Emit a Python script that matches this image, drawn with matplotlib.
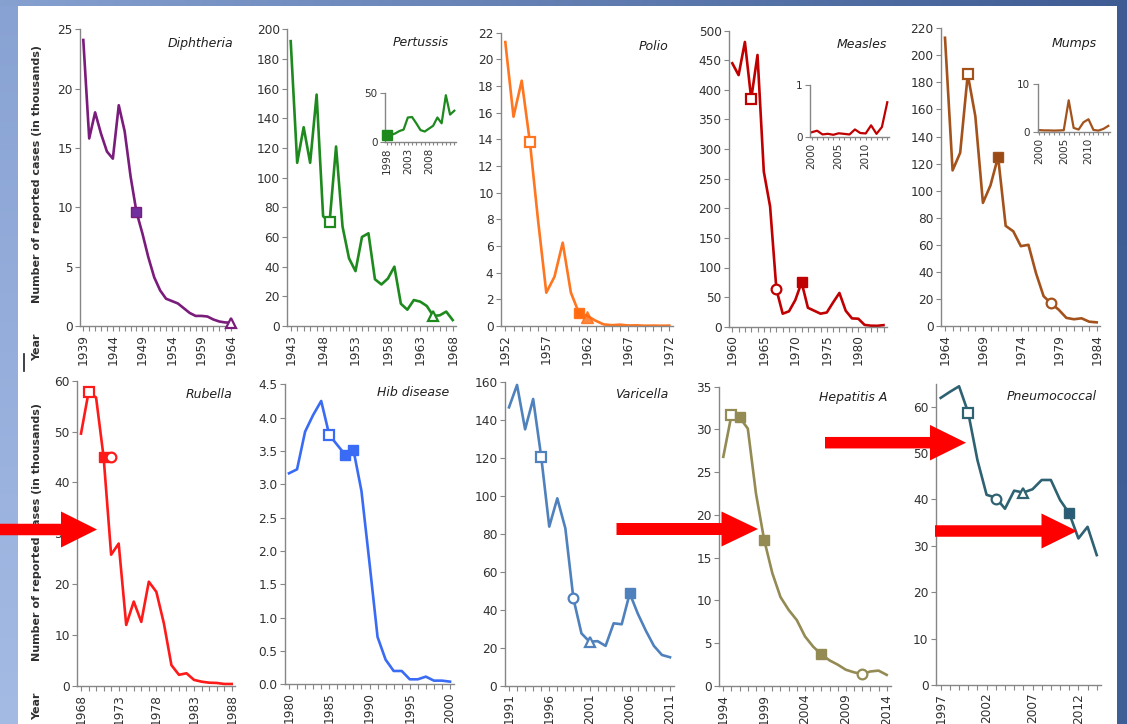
import numpy as np
import matplotlib
matplotlib.use('Agg')
import matplotlib.pyplot as plt
from matplotlib.patches import Polygon
from matplotlib.colors import LinearSegmentedColormap

plt.rcParams['font.family'] = ['DejaVu Sans']

# ---------------- data (thousands of reported cases) ----------------
diph_years = list(range(1939, 1965))
diph_vals = [24.1, 15.8, 18.0, 16.2, 14.7, 14.1, 18.6, 16.4, 12.6, 9.6, 7.8, 5.8, 4.1,
             3.0, 2.3, 2.1, 1.9, 1.5, 1.1, 0.85, 0.85, 0.8, 0.55, 0.38, 0.3, 0.28]

pert_years = list(range(1943, 1969))
pert_vals = [192, 110, 134, 110, 156, 74, 70, 121, 67, 45.6, 37, 60, 62.5, 31.5, 28, 32,
             40, 15, 11, 17.5, 16.4, 13.5, 6.8, 7.2, 9.7, 4.0]
pert_in_years = list(range(1998, 2015))
pert_in_vals = [7, 7, 8.5, 11, 12.5, 25, 25.5, 19, 12, 10.5, 13.5, 16.5, 25, 19, 48, 28, 32]

polio_years = list(range(1952, 1973))
polio_vals = [21.3, 15.7, 18.4, 13.8, 7.9, 2.5, 3.7, 6.25, 2.5, 0.95, 0.75, 0.4, 0.12,
              0.06, 0.1, 0.04, 0.05, 0.02, 0.03, 0.02, 0.03]

meas_years = list(range(1960, 1985))
meas_vals = [445, 425, 481, 385, 459, 262, 203, 63, 22, 26, 45, 75, 32, 27, 22, 24, 41,
             57, 27, 14, 13.5, 3, 1.7, 1.5, 2.6]
meas_in_years = list(range(2000, 2015))
meas_in_vals = [0.086, 0.116, 0.044, 0.056, 0.037, 0.066, 0.055, 0.043, 0.140, 0.071,
                0.063, 0.220, 0.055, 0.187, 0.667]

mumps_years = list(range(1964, 1985))
mumps_vals = [213, 115, 128, 186, 155, 91, 104, 125, 74, 70, 59, 60, 39, 22, 16.7, 12,
              6, 5, 5.7, 3.2, 2.7]
mumps_in_years = list(range(2000, 2015))
mumps_in_vals = [0.34, 0.27, 0.27, 0.23, 0.26, 0.31, 6.58, 0.80, 0.45, 1.99, 2.61,
                 0.37, 0.23, 0.58, 1.22]

rub_years = list(range(1968, 1989))
rub_vals = [49.6, 57.7, 56.7, 45, 25.8, 28, 12, 16.6, 12.6, 20.5, 18.5, 12.3, 4.1, 2.2,
            2.5, 1.2, 0.85, 0.65, 0.6, 0.4, 0.4]

hib_years = list(range(1980, 2001))
hib_vals = [3.165, 3.225, 3.79, 4.04, 4.25, 3.74, 3.59, 3.44, 3.52, 2.9, 1.82, 0.71,
            0.37, 0.2, 0.2, 0.075, 0.075, 0.115, 0.055, 0.055, 0.04]

var_years = list(range(1991, 2012))
var_vals = [146.8, 158.6, 135.2, 151.2, 120.8, 83.9, 98.8, 83, 46, 27.6, 23.2, 23.5, 21,
            32.9, 32.4, 48.7, 38, 29, 21, 16.2, 15]

hepa_years = list(range(1994, 2015))
hepa_vals = [26.8, 31.7, 31.4, 30.1, 22.5, 17.1, 13.2, 10.4, 8.9, 7.7, 5.8, 4.6, 3.7,
             3.0, 2.5, 1.9, 1.6, 1.4, 1.7, 1.8, 1.3]

pneu_years = list(range(1997, 2015))
pneu_vals = [61.9, 63.2, 64.4, 58.7, 48.5, 41, 40.4, 38, 41.9, 41.5, 42.2, 44.2, 44.2,
             39.9, 37, 31.6, 34.1, 28]

# markers: (year, value, kind)  kinds: 'sf' filled square, 'so' open square,
# 'co' open circle, 'to' open triangle, 'tf' filled triangle
diph_marks = [(1948, 9.6, 'sf'), (1964, 0.28, 'to')]
pert_marks = [(1949, 70, 'so'), (1965, 6.8, 'to')]
pert_in_marks = [(1998, 7, 'sf')]
polio_marks = [(1955, 13.8, 'so'), (1961, 0.95, 'sf'), (1962, 0.7, 'tf')]
meas_marks = [(1963, 385, 'so'), (1967, 63, 'co'), (1971, 75, 'sf')]
mumps_marks = [(1967, 186, 'so'), (1971, 125, 'sf'), (1978, 16.7, 'co')]
rub_marks = [(1969, 57.7, 'so'), (1971, 45, 'sf'), (1972, 45, 'co')]
hib_marks = [(1985, 3.74, 'so'), (1987, 3.44, 'sf'), (1988, 3.52, 'sf')]
var_marks = [(1995, 120.8, 'so'), (1999, 46, 'co'), (2001, 23.2, 'to'), (2006, 48.7, 'sf')]
hepa_marks = [(1995, 31.7, 'so'), (1996, 31.4, 'sf'), (1999, 17.1, 'sf'),
              (2006, 3.7, 'sf'), (2011, 1.4, 'co')]
pneu_marks = [(2000, 58.7, 'so'), (2003, 40.2, 'co'), (2006, 41.5, 'to'), (2011, 37, 'sf')]

titles = ['Diphtheria', 'Pertussis', 'Polio', 'Measles', 'Mumps',
          'Rubella', 'Hib disease', 'Varicella', 'Hepatitis A', 'Pneumococcal']

# ---------------- figure ----------------
W, H = 1127, 724
fig = plt.figure(figsize=(W / 100, H / 100), dpi=100, facecolor='white')

# background decoration
bg = fig.add_axes([0, 0, 1, 1], zorder=-10)
bg.axis('off')
cm_top = LinearSegmentedColormap.from_list('t', ['#86A0D0', '#3E5C93'])
cm_left = LinearSegmentedColormap.from_list('l', ['#88A2D3', '#A4BBE4'])
cm_right = LinearSegmentedColormap.from_list('r', ['#3E5C93', '#3F5F97'])
bg.imshow(np.linspace(0, 1, 256)[None, :], cmap=cm_top, extent=(0, W, 6, 0), aspect='auto')
bg.imshow(np.linspace(0, 1, 256)[:, None], cmap=cm_left, extent=(0, 18, H, 6), aspect='auto')
bg.imshow(np.linspace(0, 1, 256)[:, None], cmap=cm_right, extent=(1117, W, H, 6), aspect='auto')
bg.set_xlim(0, W); bg.set_ylim(H, 0)

AX_COL = '#868686'
TXT_COL = '#303030'

def make_axes(px_first, ppy, first, last, y0_px, ytop_px, ytop, pad, z=1):
    L = px_first - pad * ppy
    R = px_first + (last - first + pad) * ppy
    ax = fig.add_axes([L / W, 1 - y0_px / H, (R - L) / W, (y0_px - ytop_px) / H], zorder=z)
    ax.set_xlim(first - pad, last + pad)
    ax.set_ylim(0, ytop)
    ax.patch.set_alpha(0)
    for s in ['top', 'right']:
        ax.spines[s].set_visible(False)
    for s in ['left', 'bottom']:
        ax.spines[s].set_color(AX_COL)
        ax.spines[s].set_linewidth(1.0)
    return ax

def style_ticks(ax, years, yticks, fs, fmt=None, max_labels=99):
    ax.set_xticks(years)
    labs = []
    n = 0
    for y in years:
        if (y - years[0]) % 5 == 0 and n < max_labels:
            labs.append(str(y)); n += 1
        else:
            labs.append('')
    ax.set_xticklabels(labs, rotation=90)
    ax.set_yticks(yticks)
    if fmt:
        ax.set_yticklabels([fmt.format(v) for v in yticks])
    else:
        ax.set_yticklabels(['%g' % v for v in yticks])
    ax.tick_params(axis='both', length=3.5, width=0.8, color=AX_COL,
                   labelsize=fs, labelcolor=TXT_COL, pad=2)

def draw_series(ax, years, vals, marks, color, mface, lw=1.9, ms=7):
    ax.plot(years, vals, color=color, lw=lw, solid_joinstyle='round', zorder=2, clip_on=False)
    for (yr, v, k) in marks:
        if k == 'sf':
            ax.plot(yr, v, 's', ms=ms + 0.5, mfc=mface, mec=color, mew=1.0, zorder=3, clip_on=False)
        elif k == 'so':
            ax.plot(yr, v, 's', ms=ms, mfc='white', mec=color, mew=1.6, zorder=3, clip_on=False)
        elif k == 'co':
            ax.plot(yr, v, 'o', ms=ms, mfc='white', mec=color, mew=1.6, zorder=3, clip_on=False)
        elif k == 'to':
            ax.plot(yr, v, '^', ms=ms, mfc='white', mec=color, mew=1.6, zorder=3, clip_on=False)
        elif k == 'tf':
            ax.plot(yr, v, '^', ms=ms + 1, mfc=mface, mec=mface, mew=1.0, zorder=3,
                    clip_on=False, alpha=0.8)

panels = [
    (diph_years, diph_vals, diph_marks, '#7A1C7C', '#7030A0', np.arange(0, 26, 5), None,
     (83.3, 5.91, 326, 29.3, 25), (233, 43)),
    (pert_years, pert_vals, pert_marks, '#1E8A1E', '#1E8A1E', np.arange(0, 201, 20), None,
     (290.7, 6.48, 326, 29.3, 200), (449, 43)),
    (polio_years, polio_vals, polio_marks, '#FF7520', '#FF6A10', np.arange(0, 23, 2), None,
     (505.3, 8.2, 326, 32.7, 22), (668, 46)),
    (meas_years, meas_vals, meas_marks, '#C00000', '#C00000', np.arange(0, 501, 50), None,
     (732.3, 6.3, 326.7, 30.7, 500), (887, 45)),
    (mumps_years, mumps_vals, mumps_marks, '#A3521C', '#9A4A14', np.arange(0, 221, 20), None,
     (945.0, 7.585, 326, 28.3, 220), (1097, 43)),
    (rub_years, rub_vals, rub_marks, '#FF1A1A', '#FF1A1A', np.arange(0, 61, 10), None,
     (81.0, 7.535, 686, 380.7, 60), (232, 395)),
    (hib_years, hib_vals, hib_marks, '#3A6BF5', '#3A6BF5', np.arange(0, 4.51, 0.5), '{:.1f}',
     (289.0, 8.05, 684.3, 384.3, 4.5), (449, 393)),
    (var_years, var_vals, var_marks, '#4F81BD', '#4F81BD', np.arange(0, 161, 20), None,
     (509.0, 8.05, 685.7, 382.3, 160), (668, 394)),
    (hepa_years, hepa_vals, hepa_marks, '#948A54', '#948A54', np.arange(0, 36, 5), None,
     (723.3, 8.17, 686, 386.7, 35), (887, 397)),
    (pneu_years, pneu_vals, pneu_marks, '#2E6272', '#2A5C78', np.arange(0, 61, 10), None,
     (940.7, 9.18, 685, 383.5, 65), (1097, 397)),
]

for i, (yrs, vals, marks, col, mf, yt, fmt, lay, tpos) in enumerate(panels):
    pxf, ppy, y0, yt_px, ytop = lay
    ax = make_axes(pxf, ppy, yrs[0], yrs[-1], y0, yt_px, ytop, 0.5)
    style_ticks(ax, yrs, yt, 8.7, fmt)
    draw_series(ax, yrs, vals, marks, col, mf)
    fig.text(tpos[0] / W, 1 - tpos[1] / H, titles[i], ha='right', va='center',
             fontsize=9, style='italic', color='#202020')

insets = [
    (pert_in_years, pert_in_vals, pert_in_marks, '#1E8A1E', [0, 50], (386.7, 4.225, 141.7, 93.3, 50)),
    (meas_in_years, meas_in_vals, [], '#C00000', [0, 1], (811.7, 5.4, 136.7, 85, 1)),
    (mumps_in_years, mumps_in_vals, [], '#A3521C', [0, 10], (1039.0, 4.95, 131.7, 84, 10)),
]
for yrs, vals, marks, col, yt, lay in insets:
    pxf, ppy, y0, yt_px, ytop = lay
    ax = make_axes(pxf, ppy, yrs[0], yrs[-1], y0, yt_px, ytop, 0.3, z=2)
    style_ticks(ax, yrs, yt, 7.5, max_labels=3)
    ax.tick_params(axis='x', length=2.5)
    draw_series(ax, yrs, vals, marks, col, col, lw=1.6, ms=6)

# axis titles
for yc in (174, 532):
    fig.text(37.5 / W, 1 - yc / H, 'Number of reported cases (in thousands)', rotation=90,
             ha='center', va='center', fontsize=8, fontweight='bold', color=TXT_COL)
for yc in (347, 706):
    fig.text(37.5 / W, 1 - yc / H, 'Year', rotation=90, ha='center', va='center',
             fontsize=8, fontweight='bold', color=TXT_COL)

# overlay: red arrows
ov = fig.add_axes([0, 0, 1, 1], zorder=20)
ov.set_xlim(0, W); ov.set_ylim(H, 0); ov.axis('off'); ov.patch.set_alpha(0)
ov.plot([24, 24], [354, 371], color='#202020', lw=1.2)

def arrow(x0, x1, yc, shaft_h, head_x, head_h):
    pts = [(x0, yc - shaft_h / 2), (head_x, yc - shaft_h / 2), (head_x, yc - head_h / 2),
           (x1, yc), (head_x, yc + head_h / 2), (head_x, yc + shaft_h / 2),
           (x0, yc + shaft_h / 2)]
    ov.add_patch(Polygon(pts, closed=True, facecolor='#FF0000', edgecolor='none'))

arrow(0, 97, 529.5, 11.5, 61, 36)
arrow(616.5, 758, 529, 12, 721.5, 35)
arrow(825, 966, 442.7, 11.5, 930, 35.5)
arrow(935, 1077, 531, 11.5, 1041.5, 35)

fig.savefig('out.png', dpi=100, facecolor=fig.get_facecolor())
